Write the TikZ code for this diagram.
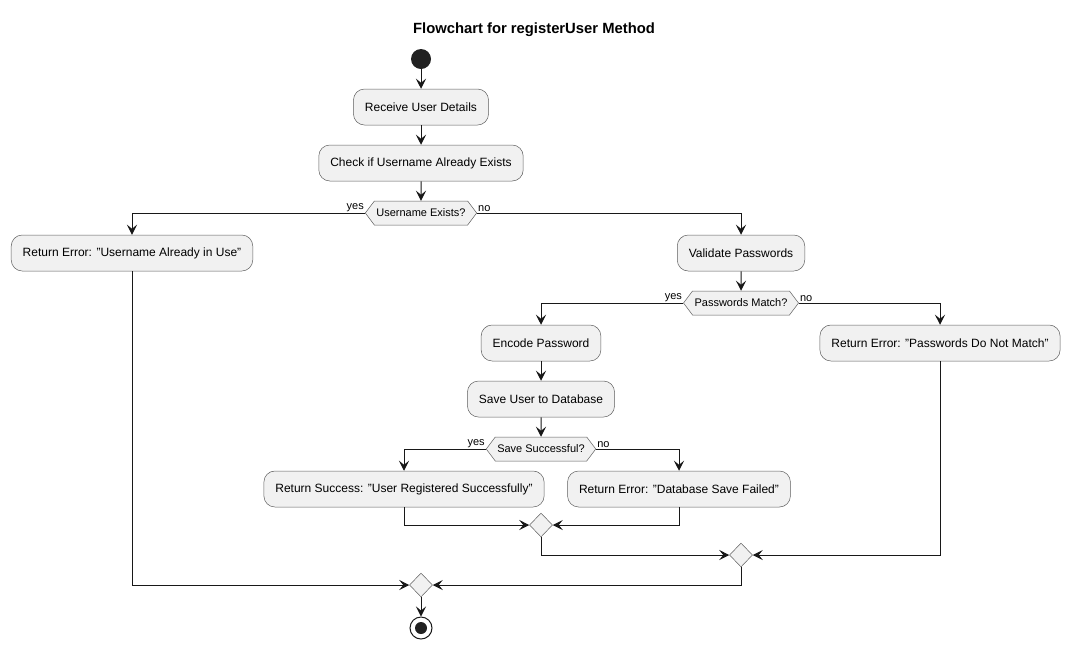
\documentclass[tikz,border=0pt]{standalone}
\usepackage{fontspec}
\setmainfont{Liberation Sans}
\usetikzlibrary{arrows.meta,shapes.geometric,shapes.symbols}
\definecolor{boxfill}{HTML}{F1F1F1}
\definecolor{boxline}{HTML}{181818}
\definecolor{lineclr}{HTML}{181818}
\begin{document}
\begin{tikzpicture}[x=1pt,y=-1pt,
  >={Stealth[length=10pt,width=10pt,inset=4pt]},
  act/.style={draw=boxline!70, fill=boxfill, rounded corners=11pt, minimum height=36pt, inner xsep=11.5pt, font=\fontsize{12}{14}\selectfont, line width=0.5pt},
  dec/.style={draw=boxline!70, fill=boxfill, shape=signal, signal to=west and east, signal from=nowhere, signal pointer angle=106, minimum height=24pt, inner xsep=2pt, inner ysep=0pt, font=\fontsize{11}{13}\selectfont, line width=0.5pt},
  mrg/.style={draw=boxline!70, fill=boxfill, shape=diamond, minimum width=23pt, minimum height=24pt, inner sep=0pt, line width=0.5pt},
  conn/.style={draw=lineclr, line width=1pt, ->},
  lbl/.style={font=\fontsize{11}{13}\selectfont, inner sep=1pt}
]
\useasboundingbox (0,0) rectangle (1070,649);
\node[font=\bfseries\fontsize{14.8}{17}\selectfont] (title) at (534,30) {Flowchart for registerUser Method};

\node[circle, fill=black!87, minimum size=20pt, inner sep=0pt] (start) at (421,59) {};
\node[act] (recv) at (421,107) {Receive User Details};
\node[act] (check) at (421,163) {Check if Username Already Exists};
\node[dec] (ue) at (421,213) {Username Exists?};
\node[act] (errU) at (132,253) {Return Error: "Username Already in Use"};
\node[act] (valid) at (741,253) {Validate Passwords};
\node[dec] (pm) at (741,303) {Passwords Match?};
\node[act] (enc) at (541,343) {Encode Password};
\node[act] (errP) at (940,343) {Return Error: "Passwords Do Not Match"};
\node[act] (save) at (541,399) {Save User to Database};
\node[dec] (ss) at (541,449) {Save Successful?};
\node[act] (succ) at (404,489) {Return Success: "User Registered Successfully"};
\node[act] (errD) at (679,489) {Return Error: "Database Save Failed"};
\node[mrg] (m1) at (541,525) {};
\node[mrg] (m2) at (741,555) {};
\node[mrg] (m3) at (421,585) {};
\node[circle, draw=lineclr, line width=1pt, fill=white, minimum size=22pt, inner sep=0pt] (stop) at (421,628) {};
\node[circle, fill=black!87, minimum size=12pt, inner sep=0pt] at (stop) {};

\draw[conn] (start) -- (recv);
\draw[conn] (recv) -- (check);
\draw[conn] (check) -- (ue);
\draw[conn] (ue.west) -| (errU.north);
\node[lbl, anchor=south east] at (ue.west) {yes};
\draw[conn] (ue.east) -| (valid.north);
\node[lbl, anchor=south west] at (ue.east) {no};
\draw[conn] (valid) -- (pm);
\draw[conn] (pm.west) -| (enc.north);
\node[lbl, anchor=south east] at (pm.west) {yes};
\draw[conn] (pm.east) -| (errP.north);
\node[lbl, anchor=south west] at (pm.east) {no};
\draw[conn] (enc) -- (save);
\draw[conn] (save) -- (ss);
\draw[conn] (ss.west) -| (succ.north);
\node[lbl, anchor=south east] at (ss.west) {yes};
\draw[conn] (ss.east) -| (errD.north);
\node[lbl, anchor=south west] at (ss.east) {no};
\draw[conn] (succ.south) |- (m1.west);
\draw[conn] (errD.south) |- (m1.east);
\draw[conn] (m1.south) |- (m2.west);
\draw[conn] (errP.south) |- (m2.east);
\draw[conn] (m2.south) |- (m3.east);
\draw[conn] (errU.south) |- (m3.west);
\draw[conn] (m3) -- (stop);
\end{tikzpicture}
\end{document}
